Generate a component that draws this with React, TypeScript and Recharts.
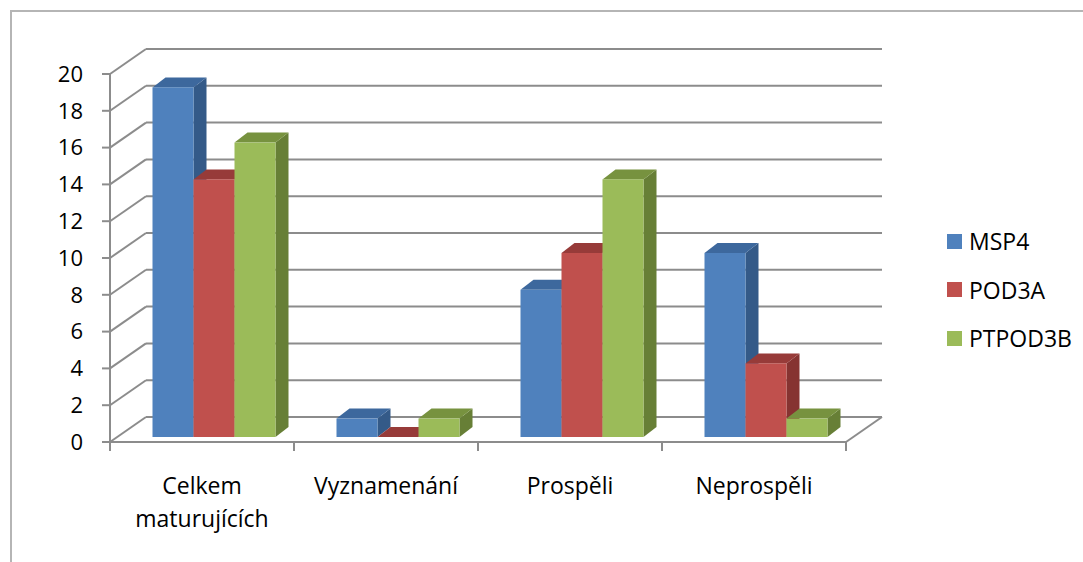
import React from "react";
import { BarChart, Bar, XAxis, YAxis, CartesianGrid, Legend } from "recharts";

const categories = ["Celkem maturujících", "Vyznamenání", "Prospěli", "Neprospěli"];
const seriesNames = ["MSP4", "POD3A", "PTPOD3B"];
const msp4 = [19, 1, 8, 10];
const pod3a = [14, 0, 10, 4];
const ptpod3b = [16, 1, 14, 1];
const yTicks = [0, 2, 4, 6, 8, 10, 12, 14, 16, 18, 20];

const data = categories.map((name, i) => ({
  name,
  MSP4: msp4[i],
  POD3A: pod3a[i],
  PTPOD3B: ptpod3b[i],
}));

// layout of the fake 3d box
const W = 1083;
const H = 562;
const MARGIN = { top: 74, right: 237, left: 50, bottom: 60 };
const Y_AXIS_W = 60;
const X_AXIS_H = 60;
const PLOT_LEFT = MARGIN.left + Y_AXIS_W;
const PLOT_RIGHT = W - MARGIN.right;
const PLOT_BOTTOM = H - MARGIN.bottom - X_AXIS_H;
const BAND = (PLOT_RIGHT - PLOT_LEFT) / categories.length;
const WALL_DX = 36;
const WALL_DY = 25;
const BAR_DX = 11.5;
const BAR_DY = -5;
const BOX_DX = 13;
const BOX_DY = 10;

const GRID = "#8c8c8c";
const FONT = "'Open Sans', sans-serif";

const colors = [
  { front: "#4f81bd", top: "#3d689d", side: "#345a88" },
  { front: "#c0504d", top: "#973b39", side: "#863331" },
  { front: "#9bbb59", top: "#77923f", side: "#677f36" },
];

function makeBox(c: { front: string; top: string; side: string }) {
  return (props: any) => {
    const { x, y, width } = props;
    const h = Math.max(props.height || 0, 0);
    const fx = x + BAR_DX;
    const fy = y + BAR_DY;
    const topFace = `M${fx},${fy} L${fx + BOX_DX},${fy - BOX_DY} L${fx + width + BOX_DX},${fy - BOX_DY} L${fx + width},${fy} Z`;
    const sideFace = `M${fx + width},${fy} L${fx + width + BOX_DX},${fy - BOX_DY} L${fx + width + BOX_DX},${fy + h - BOX_DY} L${fx + width},${fy + h} Z`;
    return (
      <g>
        <path d={sideFace} fill={c.side} />
        <path d={topFace} fill={c.top} />
        {h > 0 && <rect x={fx} y={fy} width={width} height={h} fill={c.front} />}
      </g>
    );
  };
}

const renderGridLine = (p: any) => {
  const { x1, x2, y1 } = p;
  const floor = Math.abs(y1 - PLOT_BOTTOM) < 1;
  return (
    <g key={p.key}>
      <line x1={x1} y1={y1} x2={x1 + WALL_DX} y2={y1 - WALL_DY} stroke={GRID} strokeWidth={2} />
      <line x1={x1 + WALL_DX} y1={y1 - WALL_DY} x2={x2 + WALL_DX} y2={y1 - WALL_DY} stroke={GRID} strokeWidth={2} />
      {floor && <line x1={x2} y1={y1} x2={x2 + WALL_DX} y2={y1 - WALL_DY} stroke={GRID} strokeWidth={2} />}
    </g>
  );
};

const CategoryTick = (p: any) => {
  const { x, payload, index } = p;
  const half = BAND / 2;
  const lines = String(payload.value).split(" ");
  return (
    <g>
      <line x1={x - half} y1={PLOT_BOTTOM} x2={x - half} y2={PLOT_BOTTOM + 9} stroke={GRID} strokeWidth={2} />
      {index === categories.length - 1 && (
        <line x1={x + half} y1={PLOT_BOTTOM} x2={x + half} y2={PLOT_BOTTOM + 9} stroke={GRID} strokeWidth={2} />
      )}
      <text x={x} y={PLOT_BOTTOM + 52} textAnchor="middle" fontSize={23} fontFamily={FONT} fill="#000">
        {lines.map((l, i) => (
          <tspan key={i} x={x} dy={i === 0 ? 0 : 33}>
            {l}
          </tspan>
        ))}
      </text>
    </g>
  );
};

const renderLegend = (props: any) => {
  const { payload = [] } = props;
  return (
    <div style={{ fontFamily: FONT, fontSize: 23, color: "#000" }}>
      {payload.map((item: any, i: number) => (
        <div key={i} style={{ display: "flex", alignItems: "center", height: 48.5 }}>
          <span style={{ width: 15, height: 15, background: item.color, marginRight: 7, display: "inline-block" }} />
          <span>{item.value}</span>
        </div>
      ))}
    </div>
  );
};

export default function App() {
  return (
    <div style={{ position: "absolute", left: 0, top: 0, width: W, height: H, overflow: "hidden", background: "#fff" }}>
      <div
        style={{
          position: "absolute",
          left: 10,
          top: 10,
          width: W + 20,
          height: H + 20,
          border: "2px solid #b5b5b5",
        }}
      />
      <BarChart width={W} height={H} data={data} margin={MARGIN} barGap={0} barSize={41}>
        <CartesianGrid vertical={false} horizontal={renderGridLine} />
        <XAxis
          dataKey="name"
          height={X_AXIS_H}
          tickSize={0}
          tickMargin={0}
          axisLine={{ stroke: GRID, strokeWidth: 2 }}
          tickLine={false}
          tick={<CategoryTick />}
          interval={0}
        />
        <YAxis
          width={Y_AXIS_W}
          domain={[0, 20]}
          ticks={yTicks}
          interval={0}
          tickSize={8}
          tickMargin={19}
          axisLine={{ stroke: GRID, strokeWidth: 2 }}
          tickLine={{ stroke: GRID, strokeWidth: 2 }}
          tick={{ fontSize: 22, fontFamily: FONT, fill: "#000" }}
        />
        <Legend
          layout="vertical"
          align="center"
          verticalAlign="middle"
          wrapperStyle={{ left: 947, top: 217, width: 136 }}
          content={renderLegend}
        />
        {seriesNames.map((s, i) => (
          <Bar
            key={s}
            dataKey={s}
            name={s}
            fill={colors[i].front}
            shape={makeBox(colors[i])}
            isAnimationActive={false}
          />
        ))}
      </BarChart>
    </div>
  );
}
